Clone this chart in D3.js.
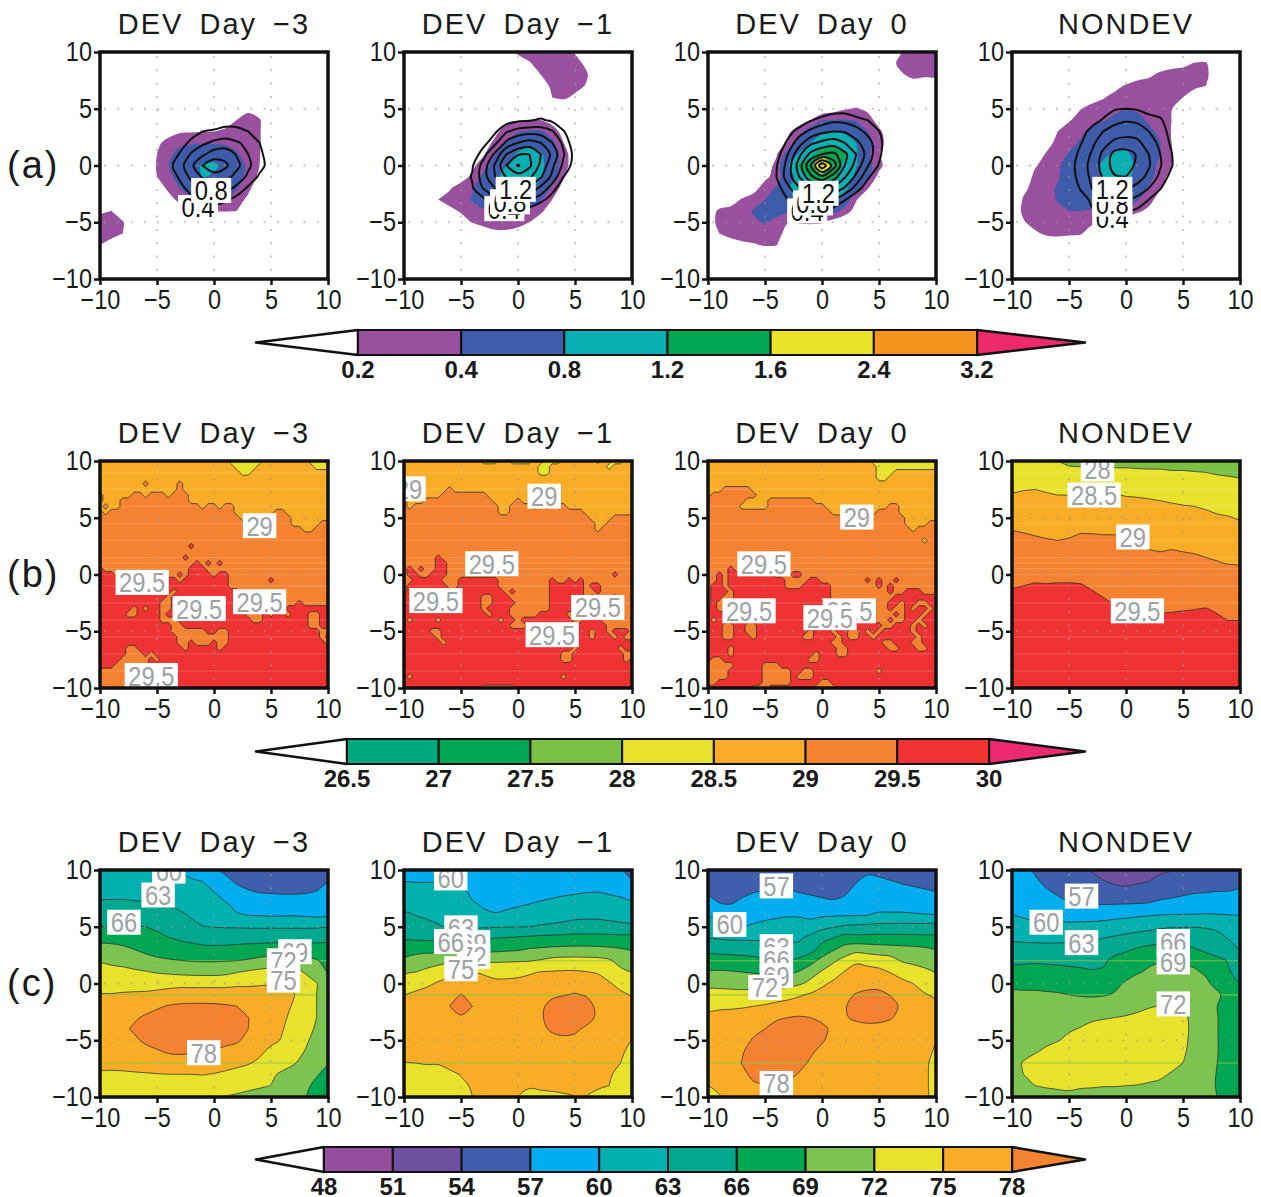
<!DOCTYPE html>
<html>
<head>
<meta charset="utf-8">
<script src="https://cdn.jsdelivr.net/npm/d3@7"></script>
<style>
html, body { margin: 0; padding: 0; background: #fff; }
text { font-family: "Liberation Sans", sans-serif; fill: #1a1a1a; }
</style>
</head>
<body>
<div id="result"></div>
<script>
/* Global vars */
var titles = ["DEV Day \u22123", "DEV Day \u22121", "DEV Day 0", "NONDEV"];
var rowNames = ["(a)", "(b)", "(c)"];
var axisTicks = [-10, -5, 0, 5, 10];
var gridDots = [-5, 0, 5];

var levelsA = [0.2, 0.4, 0.8, 1.2, 1.6, 2.4, 3.2];
var levelsB = [26.5, 27, 27.5, 28, 28.5, 29, 29.5, 30];
var levelsC = [48, 51, 54, 57, 60, 63, 66, 69, 72, 75, 78];
var lineLevelsA = [0.4, 0.6, 0.8, 1.0, 1.2, 1.4, 1.6, 1.8, 2.0];

var colorsA = ["#98509f", "#3f5cab", "#08b0b4", "#00a651", "#ebe32a", "#f7941e", "#ee2a6b"];
var colorsB = ["#00a97f", "#00a651", "#7ac143", "#e8e22c", "#f9ad26", "#f58230", "#ee3332", "#ec2a72"];
var colorsC = ["#964f9f", "#6f51a1", "#3f5fac", "#00aeef", "#00b1b0", "#00a88f", "#00a651", "#7cc352", "#e8e22c", "#f9ad26", "#f58230"];

// rows run y = 10 .. -10, columns x = -10 .. 10; a short row keeps its last value to the edge
var shadeA1 = [[0],[0],[0],[0],[0],
[0,0,0,0,0,0,0,0,0,0,0,0,.05,.14,.08,0],
[0,0,0,0,0,0,0,0,0,0,0,.1,.2,.3,.22,0],
[0,0,0,0,0,0,.1,.17,.18,.19,.2,.24,.3,.32,.22,0],
[0,0,0,0,0,.15,.28,.36,.38,.38,.38,.36,.34,.3,.22,0],
[0,0,0,0,0,.2,.36,.46,.52,.6,.62,.56,.42,.32,.21,0],
[0,0,0,0,.02,.22,.4,.5,.62,.85,.86,.72,.5,.36,.2,0],
[0,0,0,0,0,.2,.36,.46,.6,.82,.75,.62,.48,.34,.15,0],
[0,0,0,0,0,.08,.24,.4,.5,.55,.55,.5,.42,.25,.05,0],
[0,0,0,0,0,0,.12,.26,.36,.41,.42,.4,.3,.15,0],
[.15,.2,.05,0,0,0,0,.08,.18,.2,.21,.21,.2,.05,0],
[.3,.3,.22,0],[.3,.28,.2,0],[.2,.1,0],[0],[0],[0]];
var shadeA2 = [
[0,0,0,0,0,0,0,0,0,0,.25,.3,.3,.3,.3,.18,0],
[0,0,0,0,0,0,0,0,0,0,.05,.18,.3,.32,.32,.28,.15,0],
[0,0,0,0,0,0,0,0,0,0,0,0,.2,.3,.32,.3,.23,0],
[0,0,0,0,0,0,0,0,0,0,0,0,.1,.24,.3,.28,.18,0],
[0,0,0,0,0,0,0,0,0,0,0,0,0,.2,.24,.15,.05,0],
[0],
[0,0,0,0,0,0,0,0,0,.15,.19,.2,.2,.12,0],
[0,0,0,0,0,0,0,0,.15,.3,.38,.42,.42,.3,.12,0],
[0,0,0,0,0,0,0,.1,.25,.42,.58,.72,.6,.45,.2,0],
[0,0,0,0,0,0,0,.18,.4,.62,.85,.95,.85,.55,.3,.05,0],
[0,0,0,0,0,0,.15,.32,.55,.8,1.0,1.1,.9,.55,.3,.05,0],
[0,0,0,0,0,.1,.25,.45,.72,.92,1.0,1.0,.82,.5,.22,0],
[0,0,0,0,.18,.3,.38,.55,.7,.85,.9,.88,.65,.35,.1,0],
[0,0,0,.2,.27,.33,.42,.5,.6,.65,.65,.58,.42,.2,0],
[0,0,0,.08,.15,.22,.3,.38,.4,.42,.4,.36,.25,.05,0],
[0,0,0,0,0,.12,.21,.26,.3,.3,.28,.2,.05,0],
[0,0,0,0,0,0,0,.1,.15,.15,.1,0],[0],[0],[0],[0]];
var shadeA3 = [
[0,0,0,0,0,0,0,0,0,0,0,0,0,0,0,0,0,.2,.3,.3,.3],
[0,0,0,0,0,0,0,0,0,0,0,0,0,0,0,0,.1,.3,.35,.35,.35],
[0,0,0,0,0,0,0,0,0,0,0,0,0,0,0,0,0,.17,.28,.25,.25],
[0,0,0,0,0,0,0,0,0,0,0,0,0,0,0,0,0,0,.05,.03,.05],
[0],
[0,0,0,0,0,0,0,0,0,0,.05,.1,.18,.22,.15,.02,0],
[0,0,0,0,0,0,0,0,.08,.2,.38,.41,.41,.38,.3,.1,0],
[0,0,0,0,0,0,0,.15,.32,.55,.72,.82,.72,.55,.4,.25,.05,0],
[0,0,0,0,0,0,.02,.25,.5,.8,1.1,1.17,1.1,.8,.5,.27,.1,0],
[0,0,0,0,0,0,.18,.5,.85,1.15,1.3,1.32,1.22,.85,.45,.22,.02,0],
[0,0,0,0,0,.1,.25,.75,1.25,1.3,2.45,1.25,1.17,.82,.5,.28,.03,0],
[0,0,0,0,0,.15,.28,.6,.95,1.25,1.3,1.28,1.05,.7,.45,.12,0],
[0,0,0,.03,.12,.3,.42,.75,1.0,1.15,1.2,1.15,.9,.5,.22,0],
[0,0,.1,.22,.3,.4,.5,.7,.85,.95,.95,.85,.55,.22,0],
[.05,.25,.27,.32,.42,.5,.5,.45,.55,.6,.55,.48,.32,.1,0],
[.08,.27,.3,.33,.36,.42,.32,.21,.22,.24,.22,.1,0],
[.02,.2,.27,.3,.3,.3,.28,.12,.03,0],
[0,0,.1,.15,.18,.22,.21,.02,0],[0],[0],[0]];
var shadeA4 = [[0],
[0,0,0,0,0,0,0,0,0,0,0,0,0,.05,.1,.14,.21,.22,.05,0],
[0,0,0,0,0,0,0,0,0,0,0,.1,.15,.25,.3,.3,.3,.25,.05,0],
[0,0,0,0,0,0,0,0,.03,.12,.23,.3,.32,.32,.3,.3,.26,.2,0],
[0,0,0,0,0,0,0,.1,.18,.28,.32,.32,.32,.32,.3,.2,.05,0],
[0,0,0,0,0,.03,.19,.28,.32,.35,.38,.36,.34,.3,.21,.05,0],
[0,0,0,0,.02,.18,.28,.32,.38,.45,.55,.48,.36,.28,.2,.02,0],
[0,0,0,.02,.2,.3,.36,.45,.55,.62,.66,.6,.46,.34,.19,0],
[0,0,0,.1,.27,.34,.42,.55,.62,.68,.72,.66,.52,.41,.2,0],
[0,0,.05,.22,.3,.42,.52,.65,.74,.85,.85,.7,.52,.4,.22,0],
[0,0,.18,.27,.36,.5,.58,.7,.85,.95,.95,.72,.5,.35,.2,0],
[0,.08,.24,.3,.38,.5,.58,.68,.82,.92,.9,.68,.48,.3,.12,0],
[0,.15,.27,.33,.42,.5,.56,.64,.72,.8,.78,.6,.38,.22,.05,0],
[0,.22,.3,.34,.41,.46,.5,.55,.6,.62,.55,.42,.28,.1,0],
[.05,.24,.3,.33,.37,.4,.4,.38,.38,.36,.34,.24,.15,0],
[0,.18,.28,.3,.32,.32,.3,.24,.2,.15,.08,0],
[0,.08,.16,.24,.25,.24,.22,.1,0],
[0,0,0,0,.05,0],[0],[0],[0]];

var linesA1 = [[0],[0],[0],[0],[0],[0],
[0,0,0,0,0,0,0,0,0,.1,.2,.3,.3,.3,.2,0],
[0,0,0,0,0,0,0,.2,.3,.4,.44,.47,.46,.4,.25,.1,0],
[0,0,0,0,0,0,.15,.3,.45,.56,.64,.68,.62,.55,.4,.2,.05,0],
[0,0,0,0,0,0,.2,.42,.62,.76,.9,.92,.78,.6,.46,.25,0],
[0,0,0,0,0,0,.33,.52,.75,1.0,1.12,1.04,.86,.64,.48,.3,.1,0],
[0,0,0,0,0,0,.22,.44,.65,.82,.92,.88,.72,.56,.36,.18,0],
[0,0,0,0,0,0,0,.32,.5,.64,.72,.68,.55,.36,.2,0],
[0,0,0,0,0,0,0,0,.32,.42,.5,.44,.32,.15,0],
[0,0,0,0,0,0,0,0,0,.2,.28,.25,.1,0],[0],[0],[0],[0],[0],[0]];
var linesA2 = [[0],[0],[0],[0],[0],
[0,0,0,0,0,0,0,0,0,0,.1,.15,.2,.12,0],
[0,0,0,0,0,0,0,0,.15,.3,.36,.38,.43,.36,.15,0],
[0,0,0,0,0,0,0,.12,.37,.58,.68,.72,.7,.62,.42,.15,0],
[0,0,0,0,0,0,0,.33,.55,.85,1.0,1.08,1.0,.8,.55,.25,0],
[0,0,0,0,0,0,.25,.52,.85,1.2,1.38,1.4,1.2,.95,.62,.32,.1,0],
[0,0,0,0,0,.2,.38,.7,1.03,1.4,1.62,1.44,1.15,.85,.55,.3,.1,0],
[0,0,0,0,0,.28,.42,.72,1.0,1.22,1.3,1.24,1.02,.75,.4,.15,0],
[0,0,0,0,0,.15,.38,.62,.8,.98,1.02,.95,.75,.5,.22,0],
[0,0,0,0,0,0,.15,.36,.55,.68,.7,.62,.48,.28,.05,0],
[0,0,0,0,0,0,0,.12,.25,.32,.38,.3,.15,0],[0],[0],[0],[0],[0],[0]];
var linesA3 = [[0],[0],[0],[0],[0],
[0,0,0,0,0,0,0,0,0,.1,.2,.28,.3,.2,.1,0],
[0,0,0,0,0,0,0,.05,.22,.38,.48,.55,.54,.48,.4,.2,0],
[0,0,0,0,0,0,.08,.3,.5,.65,.75,.8,.78,.68,.55,.41,.1,0],
[0,0,0,0,0,0,.2,.45,.72,.95,1.05,1.1,1.0,.85,.68,.48,.2,0],
[0,0,0,0,0,.05,.3,.6,.95,1.25,1.4,1.45,1.25,1.0,.72,.46,.15,0],
[0,0,0,0,0,.1,.38,.68,1.1,1.58,2.15,1.72,1.2,.92,.62,.38,.1,0],
[0,0,0,0,0,.1,.4,.7,1.0,1.35,1.55,1.3,1.02,.75,.45,.18,0],
[0,0,0,0,0,0,.3,.55,.78,.98,1.05,.95,.78,.52,.25,0],
[0,0,0,0,0,0,.22,.4,.58,.7,.72,.62,.42,.2,0],
[0,0,0,0,0,0,.15,.25,.32,.38,.42,.3,.15,0],
[0,0,0,0,0,0,0,.05,.05,0],[0],[0],[0],[0],[0]];
var linesA4 = [[0],[0],[0],[0],
[0,0,0,0,0,0,0,0,0,.15,.2,.15,0],
[0,0,0,0,0,0,0,.15,.3,.38,.4,.38,.3,.25,.1,0],
[0,0,0,0,0,0,.15,.32,.42,.54,.58,.56,.5,.44,.22,.05,0],
[0,0,0,0,0,.08,.32,.46,.6,.68,.72,.7,.6,.5,.32,.1,0],
[0,0,0,0,0,.18,.38,.55,.72,.85,.88,.85,.7,.55,.36,.12,0],
[0,0,0,0,0,.25,.46,.62,.85,1.06,1.08,.98,.8,.6,.41,.15,0],
[0,0,0,0,0,.3,.5,.66,.88,1.08,1.1,.95,.82,.62,.42,.15,0],
[0,0,0,0,0,.28,.48,.64,.82,.98,1.0,.88,.75,.55,.32,.08,0],
[0,0,0,0,0,.2,.42,.6,.72,.82,.82,.74,.6,.42,.18,0],
[0,0,0,0,0,0,.3,.44,.56,.62,.62,.54,.4,.22,.04,0],
[0,0,0,0,0,0,.15,.38,.42,.44,.42,.36,.2,.05,0],
[0,0,0,0,0,0,0,.1,.15,.18,.15,.1,0],[0],[0],[0],[0],[0]];

// SST bands for the rugged panels: class of each half-degree cell, as class,count pairs per row
var classValues = [27.75, 28.25, 28.75, 29.25, 29.75];
var bandsB1 = [
[2,23,1,6,2,8,1,4],[2,24,1,4,2,10,1,3],[2,25,1,2,2,14],[2,41],[2,8,3,1,2,5,3,1,2,26],[2,14,3,1,2,26],
[3,1,2,5,3,2,2,1,3,3,2,1,3,3,2,25],[3,1,2,3,3,12,2,25],[2,1,3,1,2,2,3,14,2,1,3,2,2,1,3,2,2,17],
[3,1,2,1,3,22,2,7,3,2,2,8],[3,25,2,3,3,6,2,7],[3,34,2,5,3,2],[3,36,2,2,3,3],[3,41],[3,41],
[3,16,4,1,3,24],[3,41],[3,15,4,1,3,25],[3,17,4,1,3,1,4,1,3,1,4,1,3,19],[4,1,3,15,4,3,3,22],
[4,3,3,11,4,1,3,1,4,4,3,1,4,2,3,18],[4,4,3,8,4,2,3,1,4,6,4,2,3,7,4,1,3,10],[4,5,3,7,4,11,3,18],
[4,13,3,1,4,11,3,16],[4,12,3,1,4,14,3,14],[4,11,3,2,4,14,3,8,4,1,3,5],
[4,6,3,1,4,1,3,1,4,2,3,2,4,13,3,7,4,8],[4,5,3,2,4,4,3,1,4,14,3,3,4,1,3,1,4,2,3,1,4,3,3,2,4,2],
[4,11,3,3,4,13,3,2,4,8,3,2,4,2],[4,13,3,2,4,22,3,2,4,2],[4,13,3,6,4,2,3,2,4,16,3,2],
[4,14,3,9,4,16,3,1,4,1],[4,14,3,2,4,1,3,3,4,1,3,2,4,17,3,1],[4,5,3,2,4,8,3,1,4,5,3,1,4,19],
[4,5,3,3,4,1,3,1,4,31],[4,4,3,5,4,1,3,1,4,30],[4,3,3,6,4,32],[3,9,4,32],[3,9,4,32],[3,7,4,34],[3,5,4,36]];
var bandsB2 = [
[2,14,1,3,2,2,1,4,2,2,1,3,2,6,1,1,2,2,1,2,2,2],[2,24,1,2,2,10,1,1,2,4],[2,24,1,2,2,15],[2,41],[2,41],
[2,8,3,1,2,32],[2,7,3,8,2,26],[3,1,2,3,3,12,2,4,3,1,2,20],[3,1,2,1,3,15,2,2,3,4,2,1,3,1,2,1,3,3,2,12],
[3,17,2,2,3,13,2,9],[3,33,2,4,3,4],[3,34,2,2,3,5],[3,34,2,1,3,6],[3,41],[3,41],[3,41],[3,41],
[3,6,4,1,3,34],[3,6,4,2,3,33],[3,1,4,1,3,1,4,1,3,2,4,2,3,33],[3,1,4,2,3,2,4,3,3,29,4,1,3,3],
[3,2,4,5,3,3,4,7,3,9,4,1,3,2,4,1,3,1,4,1,3,9],[3,1,4,7,3,2,4,7,3,9,4,6,3,1,4,2,3,6],
[3,1,4,17,3,1,4,1,3,6,4,6,3,2,4,1,3,6],[4,14,3,2,4,3,3,7,4,6,3,1,4,1,3,3,4,1,3,3],
[4,14,3,2,4,4,3,6,4,6,3,9],[4,14,3,1,4,4,3,7,4,5,3,10],[4,15,3,1,4,3,3,5,4,5,3,3,4,1,3,8],
[4,1,3,1,4,4,3,1,4,10,3,1,4,2,3,1,4,9,3,2,4,3,3,6],[4,19,3,3,4,14,3,5],
[4,5,3,2,4,26,3,1,4,2,3,1,4,3,3,1],[4,6,3,1,4,26,3,1,4,3,3,1,4,1,3,2],[4,7,3,1,4,33],
[4,30,3,1,4,7,3,1,4,2],[4,28,3,2,4,9,3,2],[4,28,3,2,4,9,3,1,4,1],[4,41],[4,41],
[4,1,3,1,4,26,3,1,4,12],[4,41],[4,14,3,6,4,21]];
var bandsB3 = [
[2,29,1,12],[2,30,1,11],[2,30,1,3,2,8],[2,30,1,2,2,9],[2,41],[2,3,3,5,2,33],[2,1,3,8,2,32],
[3,7,2,4,3,8,2,22],[3,6,2,5,3,10,2,11,3,2,2,7],[3,22,2,8,3,4,2,7],[3,35,2,6],[3,35,2,4,3,2],
[3,36,2,1,3,4],[3,41],[3,38,2,1,3,2],[3,41],[3,41],[3,41],[3,41],[3,4,4,1,3,36],
[3,2,4,1,3,1,4,8,3,3,4,2,3,24],[3,2,4,1,3,1,4,10,3,4,4,2,3,8,4,1,3,1,4,1,3,2,4,1,3,7],
[3,1,4,2,3,1,4,10,3,3,4,5,3,8,4,1,3,1,4,1,3,8],[3,1,4,3,3,1,4,17,3,10,4,1,3,2,4,3,3,3],
[3,1,4,2,3,2,4,17,3,11,4,8],[3,1,4,1,3,3,4,18,3,9,4,2,3,1,4,2,3,2,4,2],
[4,2,3,3,4,20,3,7,4,1,3,2,4,1,3,1,4,2,3,1,4,1],[4,25,3,8,4,1,3,1,4,3,3,1,4,2],
[4,1,3,1,4,23,3,2,4,2,3,3,4,1,3,2,4,2,3,1,4,3],[4,3,3,2,4,2,3,2,4,22,3,2,4,3,3,1,4,1,3,1,4,2],
[4,3,3,2,4,2,3,2,4,9,3,1,4,3,3,1,4,2,3,2,4,1,3,1,4,1,3,1,4,5,3,1,4,5],
[4,3,3,2,4,3,3,1,4,8,3,2,4,4,3,1,4,1,3,2,4,2,3,1,4,7,3,1,4,3],[4,22,3,2,4,7,3,2,4,3,3,2,4,3],
[4,4,3,1,4,18,3,2,4,7,3,2,4,3,3,2,4,2],[4,4,3,1,4,14,3,1,4,3,3,2,4,16],[4,1,3,2,4,15,3,2,4,21],
[3,5,4,5,3,3,4,28],[3,4,4,6,3,5,4,2,3,2,4,11,3,1,4,10],[3,4,4,6,3,5,4,1,3,3,4,22],
[3,2,4,8,3,5,4,5,3,2,4,19],[4,8,3,3,4,8,3,4,4,18]];
var fieldB4 = [
[28.2,28.2,28.15,28.1,28,27.9,27.9,27.85,27.85,27.85,27.85,27.8,27.8,27.8,27.75,27.75,27.75,27.75,27.7,27.7,27.7],
[28.3,28.3,28.25,28.2,28.15,28.12,28.1,28.1,28.1,28.1,28.1,28.1,28.08,28.08,28.05,28.05,28.02,28,27.95,27.92,27.88],
[28.4,28.42,28.42,28.4,28.35,28.35,28.35,28.35,28.35,28.35,28.35,28.35,28.35,28.3,28.27,28.25,28.22,28.2,28.18,28.15,28.12],
[28.52,28.55,28.58,28.53,28.5,28.5,28.5,28.5,28.5,28.52,28.48,28.47,28.45,28.42,28.38,28.35,28.32,28.3,28.28,28.25,28.22],
[28.68,28.68,28.68,28.68,28.68,28.68,28.68,28.68,28.68,28.68,28.65,28.62,28.6,28.58,28.55,28.52,28.5,28.45,28.4,28.38,28.35],
[28.8,28.8,28.8,28.8,28.8,28.8,28.8,28.8,28.8,28.8,28.8,28.8,28.78,28.75,28.72,28.7,28.65,28.62,28.55,28.52,28.47],
[28.98,28.95,28.93,28.9,28.9,28.88,28.93,28.92,28.9,28.9,28.88,28.85,28.82,28.8,28.78,28.75,28.72,28.68,28.65,28.62,28.6],
[29.15,29.1,29.05,29.02,29,29.03,29.12,29.12,29.1,29.1,29.05,28.97,28.92,28.9,28.88,28.88,28.85,28.82,28.8,28.78,28.78],
[29.25,29.25,29.22,29.2,29.2,29.2,29.2,29.2,29.2,29.2,29.15,29.1,29.02,29,29.03,29,28.98,28.95,28.92,28.9,28.88],
[29.35,29.35,29.33,29.33,29.32,29.32,29.3,29.3,29.3,29.3,29.3,29.25,29.2,29.18,29.15,29.15,29.1,29.05,29.02,28.98,28.97],
[29.42,29.42,29.42,29.42,29.42,29.42,29.42,29.4,29.4,29.38,29.35,29.33,29.3,29.28,29.26,29.25,29.22,29.2,29.18,29.18,29.15],
[29.47,29.5,29.53,29.52,29.53,29.53,29.52,29.47,29.43,29.4,29.38,29.35,29.33,29.32,29.31,29.3,29.3,29.28,29.27,29.26,29.25],
[29.6,29.6,29.6,29.6,29.6,29.6,29.6,29.55,29.5,29.45,29.42,29.4,29.38,29.36,29.36,29.35,29.35,29.35,29.32,29.3,29.3],
[29.7,29.7,29.7,29.7,29.7,29.7,29.7,29.65,29.6,29.52,29.5,29.47,29.46,29.46,29.47,29.48,29.49,29.51,29.46,29.42,29.4],
[29.75,29.75,29.75,29.75,29.75,29.75,29.75,29.72,29.68,29.64,29.6,29.58,29.57,29.56,29.56,29.58,29.59,29.6,29.55,29.49,29.48],
[29.8],[29.82],[29.84],[29.85],[29.85],[29.85]];

var fieldC1 = [
[61.5,61.4,61.3,61.2,61.1,60.8,60.3,60,59.2,58.4,57.4,56.4,55.8,55.2,55,55,55,55,55,55.5,56],
[62,62,61.8,61.6,61.3,61,60.8,60.6,60.3,60,59,57.8,56.6,55.9,55.6,55.5,55.5,55.5,55.6,56,56.9],
[62.4,62.4,62.4,62.3,62.2,62.1,62,61.6,61.2,60.7,60.1,59.2,58.2,57.4,57,56.9,56.8,56.8,56.9,57.2,57.6],
[63.3,63.4,63.4,63.3,63.2,63.1,62.9,62.3,61.7,61,60.6,60.2,59.5,58.8,58.5,58.4,58.3,58.3,58.2,58.2,58.4],
[64.5,64.6,64.7,64.7,64.6,64.4,64,63.5,62.8,61.9,61.2,60.6,60.2,60,59.9,59.8,59.8,59.9,59.7,59.5,59.4],
[65.9,66.1,66.2,66.2,66,65.6,64.9,64.2,63.6,63.1,62.9,62.8,62.8,62.7],
[68,68,67.8,67.6,67,66.6,66.1,65.7,65.4,65.1,65,65,65,65,64.9,65,65,65,65,65.1,65.2],
[70,70,69.6,69,68.4,67.8,67.4,67,66.8,66.6,66.5,66.6,66.8,67,67.2,67.4,67.5,67.5,67.3,67.2,67],
[71.7,71.5,71.2,70.6,70,69.6,69.3,69.1,68.9,68.8,68.8,68.9,69,69.3,69.8,70.2,70.3,70.5,70,69.2,68.2],
[73,72.8,72.7,72.5,72.2,71.8,71.5,71.2,71,70.9,70.9,71.2,71.9,72.4,72.8,73,73,72.9,71.8,70.6,68.8],
[74.2,74.2,74.3,74.2,74.1,74.3,74.5,74.6,74.6,74.6,74.6,74.6,74.7,74.7,74.8,74.9,74.8,74.6,73.2,72.1,70.4],
[75.1,75.1,75.2,75.3,75.4,75.5,75.6,75.7,75.7,75.7,75.7,75.7,75.8,75.8,75.8,75.7,75.5,75.1,73.6,72,70.2],
[75.8,76,76.2,76.6,77.2,77.6,78.2,78.6,78.8,78.8,78.7,78.4,78,77,76.3,75.8,75.6,74.8,73.2,72,70.2],
[76,76.4,77,77.7,78.3,79,79.5,79.7,79.6,79.5,79.4,79.2,78.9,78.05,76.8,76,75.4,74.4,73,72,70.1],
[76.2,76.5,77.5,78.3,79.2,79.7,80,80.1,80.1,80,79.8,79.5,79.1,78,76.6,75.8,75.1,74.1,72.8,71.7,69.9],
[76.2,76.5,77,77.6,78.4,79.2,79.6,79.7,79.6,79.5,79.2,78.9,78.4,77.2,76.4,75.6,74.8,73.7,72.4,71.2,69.8],
[76,76.2,76.6,77,77.3,77.7,78.3,78.5,78.3,78.05,77.7,77.2,76.8,76,75.5,74.4,73.8,72.9,71.9,70.9,69.6],
[75.6,75.7,75.9,76.1,76.3,76.4,76.5,76.5,76.5,76.3,76.1,75.9,75.6,75.2,74.5,73.6,72.9,72.2,71.2,70.2,69.2],
[74.6,74.6,74.6,74.7,74.8,74.9,75,75,75,75.1,74.9,74.6,74.2,73.8,73.2,72.4,71.6,71,70.2,69.2,68.2],
[73.5,73.4,73.4,73.4,73.4,73.4,73.5,73.5,73.5,73.5,73.3,73.2,73,72.6,72.3,71.95,71,70.2,69.5,68.4,67.4],
[73,73,73,73,73,72.9,72.8,72.6,72.4,72.2,72.1,71.9,71.6,71.3,71,70.6,70.2,69.6,69.1,68,66.8]];
var fieldC2 = [
[59.2,59.2,59.2,59,58.8,58.6,58.4,58.2,58.1,58.1,58,58,58,58,58,58,58,57.9,57.6,57.2,56.2],
[59.9,59.9,59.9,59.9,59.8,59.6,59,58.8,58.8,58.7,58.6,58.5,58.4,58.3,58.2,58,58,58,57.9,57.6,57.2],
[61,61,61,61,60.9,60.6,59.6,59.4,59.3,59.2,59.2,59.2,59.2,59.3,59.6,59.8,60,60.1,59.8,59.5,59],
[62.2,62.2,62.1,62,62,61.6,60.2,59.8,59.7,59.7,59.8,60,60.3,60.7,61,61.2,61.3,61.3,61,60.8,60.3],
[63.4,63,62.8,62.7,62.6,62.3,60.8,60.3,60.1,60.3,60.6,61,61.4,61.8,62.1,62.4,62.5,62.5,62.3,62.1,61.8],
[64.2,63.8,63.4,63.1,62.9,62.9,62.7,62.7,62.8,62.9,62.9,63,63.3,63.5,63.7,64,64,64,63.8,63.6,63.4],
[65.6,65.5,65.4,65.4,65.5,65.5,65.5,65.7,66,66.2,66.4,66.6,66.8,66.9,67,67.1,67.1,67.1,67.1,67,66.9],
[67.6,68.2,68.2,68.1,68.2,68.2,68.2,68.2,68.3,68.5,68.7,69.2,69.4,69.6,69.7,69.8,69.8,69.7,69.5,69.2,68.8],
[69.5,70,70.6,71,71.4,71.5,71.5,71.5,71.6,71.7,71.8,71.9,72.3,72.9,73.1,73.1,73,72.9,72.4,71,70],
[71.6,72,72.7,73.6,74.2,74.6,75.1,74.7,74.3,74.3,74.4,74.7,75.1,75.2,75.3,75.3,75.1,74.8,73.6,72.7,72],
[73.5,74,74.5,75.3,75.8,76.2,76.2,75.9,75.5,75.5,75.6,76,76.2,76.6,76.8,76.8,76.6,76,75.3,74,73.2],
[75,75.5,76,76.4,77.2,78.1,77.3,76.8,76.5,76.4,76.4,76.6,77,77.6,77.9,78.2,77.8,77,76.3,75.6,74.8],
[75.5,76,76.4,77,78,79,78,77.2,76.8,76.7,76.7,76.9,77.6,78.7,79.2,79.4,79,77.4,76.6,76.2,75.6],
[75.6,76,76.4,76.9,77.4,77.7,77.3,76.9,76.7,76.6,76.6,76.9,77.7,79,79.6,79.8,79.1,77.5,76.7,76.2,75.8],
[75.7,76,76.2,76.4,76.6,76.7,76.6,76.5,76.4,76.4,76.5,76.7,77.4,78.4,78.9,78.5,77.5,76.7,76.4,76,75.5],
[75.6,75.8,76,76.1,76.2,76.2,76.2,76.2,76.2,76.2,76.3,76.4,76.8,77.2,77.4,77.3,76.8,76.4,76.1,75.6,75],
[75.5,75.6,75.8,75.9,76,76,76,76,76,76,76,76,76,76,76,76,76,76,75.8,75.3,74.5],
[74.9,75,75.1,75.1,75.6,75.8,75.9,75.9,75.9,75.9,75.9,75.9,75.9,75.9,75.9,75.9,75.8,75.7,75.4,75,74],
[74.3,74.3,74.4,74.4,74.6,75.1,75.5,75.7,75.7,75.7,75.7,75.7,75.7,75.7,75.7,75.7,75.6,75.5,75.2,74.5,73.5],
[73.8,73.8,73.9,74,74.1,74.6,75.2,75.4,75.4,75.3,75.2,75.1,75.2,75.2,75.2,75.3,75.3,75.2,75,74,73],
[73.5,73.5,73.5,73.6,73.8,74.3,75,75.1,75.1,75.05,75,74.7,74.7,74.8,74.9,75,75,74.6,74.2,73.5,72.8]];
var fieldC3 = [
[55.5,55.5,55.5,55.5,55.5,55.5,55.5,55.5,55.5,55.5,55.5,55.5,55.5,56.3,56.6,56.4,56,55.8,55.6,55.5],
[56,56,56,56,56.2,56.2,56.2,56.2,56.2,56.2,56.1,56,56,56.9,57.5,57.4,57.1,56.8,56.6,56.4,56.2],
[56.7,56.6,56.5,56.6,57,57.2,57.4,57.3,57,56.8,56.6,56.7,56.8,57.6,58,58,57.9,57.7,57.5,57.3,57.1],
[57.7,57.05,57,57.5,58,58.2,58.3,58.2,58,57.8,57.5,57.2,57.6,58.5,58.8,59,59,59,58.8,58.6,58.4],
[59.8,59.3,59,59,59.2,59.5,59.7,59.9,59.9,59.6,59.7,59.8,59.9,59.9,60,60.4,60.4,60.4,60.3,60.2,60.1],
[61.5,61,60.5,60,60.3,60.6,60.8,60.7,60.5,60.8,62.2,62.8,63.4,63.6,63.8,64,64,64.1,64.1,64.1,64.2],
[63,62.8,62.6,62.6,62.6,62.6,62.5,62.6,62.6,64,65.3,66,67.2,67,67,67,67,66.9,66.9,66.8,66.6],
[65,65,64.9,64.7,64.5,64.4,64.2,63.9,63.9,65,67,68.7,70.2,71,70.7,70.4,70.2,70,69.8,69.5,69],
[67.4,67.4,67.3,67.2,66.9,66.5,66.2,66,66.8,68,70,71.6,73,74.6,74.1,73.7,73.2,71.8,71.4,71,70.5],
[69.2,69.3,69.2,69,68.8,68.6,68.4,68.4,69.2,70.8,72.3,73.6,75.2,76,76,75.7,74.9,74,73.2,72.6,71.9],
[71.1,71.2,71,70.8,70.7,70.6,70.7,71,71.6,72.8,74.4,75.6,76.4,76.8,77.2,77.2,76.5,75.7,75,74,73.3],
[73,73,73,73,73.2,73.2,73.6,74,74.7,75.4,76.2,76.8,77.3,78.2,78.6,78.6,77.9,77,75.9,75.2,74.6],
[74.6,74.7,74.7,74.8,75,75.3,75.8,76.2,76.5,76.7,77,77.3,77.8,79,79.5,79.6,79,77.5,76.5,76,75.6],
[75.3,75.6,75.8,76,76.5,77,77.6,78,78.2,78,77.4,77,77.7,78.6,79.1,79,78.3,77,76.4,76,75.8],
[75.5,75.8,76.2,76.6,77.2,78,79,79.6,79.6,79.5,78.6,77.4,76.8,76.8,76.9,76.8,76.6,76.3,76.1,75.9,75.6],
[75.5,75.8,76.4,77,78.3,79.5,80,80.2,80,79.6,78.3,77,76.5,76.4,76.3,76.3,76.2,76.1,76,75.7,75.1],
[75.5,75.9,76.8,77.8,79,80,80.3,80.3,79.8,78.4,77.3,76.6,76.3,76.2,76.2,76.1,76.1,76,76,75.7,74.7],
[75.4,75.9,76.9,78.1,79.5,80.2,80.2,79.6,78.8,77.6,76.8,76.4,76.2,76.2,76.1,76.1,76,76,76,75.3,74.5],
[75.3,75.9,76.6,77.4,78.6,79.4,79.4,78.8,77.8,77,76.4,76.2,76.2,76.1,76.1,76.1,76,76,76,75.3,74.4],
[75,75.6,76.2,76.8,77.6,77.8,77.6,77.2,76.8,76.4,76.2,76.2,76.2,76.1,76.1,76.1,76,76,76,75.3,74.4],
[74,74.8,75.8,76.4,76.8,77,76.9,76.6,76.4,76.3,76.2,76.2,76.2,76.1,76.1,76.1,76,76,76,75.3,74.4]];
var fieldC4 = [
[58,57.3,56.8,56,55.5,55,54.5,53.8,53.2,53,52.8,53,53.2,53.6,54,54.6,55,55.4,55.6,55.8,56],
[58.4,58,57.3,56.6,56,55.5,55.2,54.8,54.1,53.7,53.5,53.7,54,54.6,55,55.5,55.8,56,56.2,56.4,56.6],
[59,58.4,57.6,57.3,56.8,56.2,55.8,55.5,55.2,54.8,54.7,55,55.4,55.8,56.2,56.6,56.9,57,57.1,57.1,57.2],
[59.4,59,58.6,58.2,57.6,57.2,57,56.9,56.9,56.95,57,57.1,57.2,57.7,57.9,58.1,58.2,58.4,58.4,58.3,58.2],
[60.1,59.7,59.4,59.1,59,59,59,59.1,59.2,59.4,59.5,59.7,59.9,60.1,60.2,60.2,60.2,60.3,60.2,60.1,60],
[61.5,61,60.6,60.6,60.7,60.7,60.8,60.8,60.9,61.2,61.5,61.9,62.2,62.6,62.8,62.9,62.9,62.8,62.6,62.3,61.8],
[62.6,62.4,62.3,62.3,62.4,62.5,62.6,62.7,63,63.4,63.9,64.2,64.5,65,65.2,65,64.7,64.3,63.6,62.9,62.3],
[63.7,64,64,63.9,63.8,63.8,63.6,64,64.4,65,65.6,66.3,66.8,66.9,66.8,66.6,66.2,65.4,64.6,63.8,63],
[65.4,65.6,65.7,65.6,65.6,65.5,65.4,65.3,65.5,66.8,67.4,68,68.6,68.8,68.8,68.6,68.3,67.6,66.8,65.8,64.8],
[66.7,66.9,67,66.9,66.7,66.5,66.4,66.2,66.4,67.3,68.1,68.8,69.3,69.9,69.9,69.9,69.4,68.6,67.4,66.2,65.2],
[68.4,68.4,68.4,68.3,68.2,68,67.8,67.7,67.9,68.4,69.3,70,70.5,70.9,71,70.6,70,69.6,68,66.9,66],
[69.4,69.4,69.4,69.3,69.2,69,68.8,68.7,68.8,69.2,70,70.6,71,71.4,71.5,71.3,70.8,70,69.6,67.7,66.4],
[70,70,70,70.1,70.2,70.2,70.2,70.3,70.5,70.8,71,71.4,71.8,72.1,72.3,72.1,71.4,70.6,69,67.8,66.8],
[70.2,70.2,70.3,70.4,70.6,71,71.4,71.7,71.8,72,72.2,72.5,72.9,73,73.1,72.3,71.6,70.7,69.1,67.8,66.9],
[70.4,70.5,70.7,70.9,71.2,71.8,72.1,72.5,73,73.2,73.4,73.5,73.6,73.6,73.5,72.4,71.6,70.6,69.1,67.8,67],
[70.6,70.8,71.2,71.5,71.9,72.4,72.9,73.3,73.6,73.8,74,74,74,73.9,73.5,72.3,71.6,70.5,69.1,67.8,67],
[70.8,71.1,71.8,72.4,72.8,73.2,73.6,74,74.2,74.4,74.4,74.4,74.3,74,73.4,72.2,71.5,70.3,69.1,67.9,67],
[71,72.2,72.9,73.4,73.7,74,74.2,74.4,74.6,74.6,74.6,74.6,74.3,73.8,73,72,71.3,70.2,69,67.9,67.2],
[71,72,72.9,73.3,73.5,73.6,73.6,73.6,73.5,73.5,73.4,73.3,73,72.6,71.7,71,70.4,69.8,68.9,67.8,67.2],
[70.6,71,72,72.2,72.3,72.4,72.2,72.2,72.1,72.1,72,71.9,71.6,71.3,70.8,70.4,70,69.5,68.9,67.8,67.2],
[70.2,70.6,71,71.2,71.4,71.5,71.4,71.2,71,71,70.9,70.8,70.6,70.4,70,69.8,69.5,69.2,69,67.8,67.2]];

// contour labels: text, x, y in plot units, painted in this order
var labelsA = [
  [["0.4", -1.4, -3.7], ["0.8", -0.25, -2.2]],
  [["0.4", -1.2, -3.8], ["0.8", -0.7, -3.2], ["1.2", -0.2, -2.1]],
  [["0.4", -1.3, -4], ["0.8", -0.8, -3.3], ["1.2", -0.3, -2.45]],
  [["0.4", -1.2, -4.6], ["0.8", -1.2, -3.4], ["1.2", -1.2, -2.1]]];
var labelsB = [
  [["29", 4, 4.3], ["29.5", -6.3, -0.7], ["29.5", -1.3, -3], ["29.5", 4, -2.4], ["29.5", -5.5, -8.9]],
  [["29", -9.56, 7.55], ["29", 2.3, 6.9], ["29.5", -2.3, 0.95], ["29.5", -7.2, -2.3], ["29.5", 7, -2.9], ["29.5", 3, -5.3]],
  [["29", 3.06, 5.06], ["29.5", -5.1, 0.94], ["29.5", -6.4, -3.2], ["29.5", 2.4, -3.2], ["29.5", 0.7, -3.8]],
  [["28", -2.5, 9.3], ["28.5", -2.8, 7], ["29", 0.6, 3.3], ["29.5", 1, -3.2]]];
var labelsC = [
  [["60", -3.96, 9.9], ["63", -4.9, 7.8], ["66", -7.9, 5.4], ["69", 7.1, 2.8], ["72", 6.1, 2], ["75", 6.1, 0.3], ["78", -0.9, -6.1]],
  [["60", -5.9, 9.3], ["63", -5, 4.9], ["69", -3.9, 3.6], ["72", -3.9, 2.4], ["66", -5.9, 3.7], ["75", -5, 1.3]],
  [["57", -4, 8.6], ["60", -8.1, 5.2], ["63", -4, 3.25], ["66", -4, 2.1], ["69", -4, 0.7], ["72", -5, -0.35], ["78", -4, -8.8]],
  [["57", -3.9, 7.7], ["60", -7, 5.4], ["63", -3.9, 3.6], ["66", 4.15, 3.7], ["69", 4.15, 1.9], ["72", 4.15, -1.8]]];

// printing stripes seen across the shaded fields
var stripesB = [9, 7.5, 6, 4.5, 3, 1.5, 1, 0.5, 0, -1, -2.5, -4, -5.5, -7, -8.5];
var stripesC = [2, -1, -7];

var panelX = [100, 404, 708, 1012];
var rowY = [52, 461, 870];
var plotW = 228, plotH = 227;
var barY = [330, 739, 1147];
var barStart = [358, 347, 324];
var barEnd = [977, 989, 1012];

var svg = d3.select("#result").append("svg")
    .attr("width", 1261)
    .attr("height", 1197)
    .style("display", "block");

var defs = svg.append("defs");

function fromBands(bands) {
    return bands.map(function (pairs) {
        var row = [];
        for (var i = 0; i < pairs.length; i += 2) {
            for (var k = 0; k < pairs[i + 1]; k++) row.push(classValues[pairs[i]]);
        }
        return row.slice(0, 41);
    });
}

function makeGrid(rows, n) {
    var out = [];
    rows.forEach(function (row) {
        for (var i = 0; i < n; i++) {
            out.push(i < row.length ? row[i] : row[row.length - 1]);
        }
    });
    return out;
}

// no narrow font installed, so pull the glyphs in to the width of the original lettering
function squeeze(node, k) {
    var w = node.getComputedTextLength() * k;
    node.setAttribute("textLength", w);
    node.setAttribute("lengthAdjust", "spacingAndGlyphs");
    return w;
}

function drawField(rows, levels, colors, left, top, smooth) {
    var n = rows.length;
    // grid cell centres sit at i + 0.5
    var x = d3.scaleLinear().domain([0.5, n - 0.5]).range([left, left + plotW]);
    var y = d3.scaleLinear().domain([0.5, n - 0.5]).range([top, top + plotH]);
    var contours = d3.contours().size([n, n]).thresholds(levels)(makeGrid(rows, n));
    var ringLine = d3.line()
        .x(function (p) { return x(p[0]); })
        .y(function (p) { return y(p[1]); })
        .curve(smooth ? d3.curveCatmullRomClosed.alpha(0.5) : d3.curveLinearClosed);
    return contours.map(function (c, i) {
        var d = "";
        c.coordinates.forEach(function (poly) {
            poly.forEach(function (ring) {
                d += ringLine(ring.slice(0, -1));
            });
        });
        return { d: d, color: colors ? colors[i] : null };
    });
}

function drawPanel(rowIndex, colIndex, cfg) {
    var left = panelX[colIndex], top = rowY[rowIndex];
    var clipId = "clip-" + rowIndex + "-" + colIndex;
    defs.append("clipPath").attr("id", clipId).append("rect")
        .attr("x", left).attr("y", top).attr("width", plotW).attr("height", plotH);

    var xAxisScale = d3.scaleLinear().domain([-10, 10]).range([left, left + plotW]);
    var yAxisScale = d3.scaleLinear().domain([-10, 10]).range([top + plotH, top]);

    var g = svg.append("g").attr("clip-path", "url(#" + clipId + ")");

    var shaded = drawField(cfg.rows, cfg.levels, cfg.colors, left, top, cfg.smooth);
    g.selectAll("path.fill").data(shaded).enter().append("path")
        .attr("class", "fill")
        .attr("d", function (d) { return d.d; })
        .attr("fill", function (d) { return d.color; })
        .attr("fill-rule", "evenodd");

    (cfg.stripes || []).forEach(function (v) {
        g.append("line")
            .attr("x1", left).attr("x2", left + plotW)
            .attr("y1", yAxisScale(v)).attr("y2", yAxisScale(v))
            .attr("stroke", cfg.stripeColor)
            .attr("stroke-opacity", cfg.stripeOpacity)
            .attr("stroke-width", 1.6);
    });

    if (cfg.edgeLevels) {
        var edges = drawField(cfg.rows, cfg.edgeLevels, null, left, top, cfg.smooth);
        g.selectAll("path.edge").data(edges).enter().append("path")
            .attr("class", "edge")
            .attr("d", function (d) { return d.d; })
            .attr("fill", "none")
            .attr("stroke", "#2b2b2b")
            .attr("stroke-opacity", 0.75)
            .attr("stroke-width", 1);
    }

    // dotted grid
    gridDots.forEach(function (v) {
        g.append("line").attr("x1", xAxisScale(v)).attr("x2", xAxisScale(v))
            .attr("y1", top).attr("y2", top + plotH)
            .attr("stroke", "#999").attr("stroke-opacity", 0.55)
            .attr("stroke-width", 2).attr("stroke-dasharray", "2 11.3").attr("stroke-dashoffset", -4);
        g.append("line").attr("x1", left).attr("x2", left + plotW)
            .attr("y1", yAxisScale(v)).attr("y2", yAxisScale(v))
            .attr("stroke", "#999").attr("stroke-opacity", 0.55)
            .attr("stroke-width", 2).attr("stroke-dasharray", "2 11.3").attr("stroke-dashoffset", -4);
    });

    if (cfg.lineRows) {
        var lines = drawField(cfg.lineRows, lineLevelsA, null, left, top, true);
        g.selectAll("path.ring").data(lines).enter().append("path")
            .attr("class", "ring")
            .attr("d", function (d) { return d.d; })
            .attr("fill", "none")
            .attr("stroke", "#101010")
            .attr("stroke-width", 2);
    }

    // contour labels
    cfg.labels.forEach(function (lab) {
        var t = g.append("text")
            .attr("x", xAxisScale(lab[1]))
            .attr("y", yAxisScale(lab[2]) + 10)
            .attr("text-anchor", "middle")
            .style("font-size", "27px")
            .style("fill", cfg.labelColor)
            .text(lab[0]);
        var w = squeeze(t.node(), 0.88) + 7;
        g.insert("rect", function () { return t.node(); })
            .attr("x", xAxisScale(lab[1]) - w / 2)
            .attr("y", yAxisScale(lab[2]) - 12.5)
            .attr("width", w)
            .attr("height", 25)
            .attr("fill", "#fff");
    });

    // frame + axes
    svg.append("rect")
        .attr("x", left).attr("y", top).attr("width", plotW).attr("height", plotH)
        .attr("fill", "none").attr("stroke", "#111").attr("stroke-width", 3.5);

    var fmt = function (d) { return d < 0 ? "\u2212" + Math.abs(d) : "" + d; };
    var xAxis = svg.append("g").attr("transform", "translate(0," + (top + plotH) + ")")
        .call(d3.axisBottom(xAxisScale).tickValues(axisTicks).tickSize(6).tickPadding(5).tickFormat(fmt));
    var yAxis = svg.append("g").attr("transform", "translate(" + left + ",0)")
        .call(d3.axisLeft(yAxisScale).tickValues(axisTicks).tickSize(6).tickPadding(2).tickFormat(fmt));
    [xAxis, yAxis].forEach(function (a) {
        a.select(".domain").remove();
        a.selectAll("line").attr("stroke", "#111").attr("stroke-width", 2.5);
        a.selectAll("text")
            .style("font-size", "27px")
            .style("font-family", '"Liberation Sans", sans-serif')
            .attr("fill", "#1a1a1a")
            .each(function () { squeeze(this, 0.87); });
    });

    svg.append("text")
        .attr("x", left + plotW / 2)
        .attr("y", top - 18)
        .attr("text-anchor", "middle")
        .style("font-size", "29px")
        .style("letter-spacing", "2px")
        .style("word-spacing", "6px")
        .text(titles[colIndex]);
}

function drawBar(index, levels, colors, overColor) {
    var y0 = barY[index], h = 25;
    var scale = d3.scaleLinear().domain([0, levels.length - 1]).range([barStart[index], barEnd[index]]);
    var g = svg.append("g");
    var mid = y0 + h / 2;
    var tipLeft = 256, tipRight = 1085;

    g.append("path")
        .attr("d", d3.line()([[scale(0), y0], [tipLeft, mid], [scale(0), y0 + h]]) + "Z")
        .attr("fill", "#fff").attr("stroke", "#111").attr("stroke-width", 2.5).attr("stroke-linejoin", "round");
    g.append("path")
        .attr("d", d3.line()([[scale(levels.length - 1), y0], [tipRight, mid], [scale(levels.length - 1), y0 + h]]) + "Z")
        .attr("fill", overColor).attr("stroke", "#111").attr("stroke-width", 2.5).attr("stroke-linejoin", "round");

    g.selectAll("rect").data(levels.slice(0, -1)).enter().append("rect")
        .attr("x", function (d, i) { return scale(i); })
        .attr("y", y0)
        .attr("width", function (d, i) { return scale(i + 1) - scale(i); })
        .attr("height", h)
        .attr("fill", function (d, i) { return colors[i]; })
        .attr("stroke", "#111")
        .attr("stroke-width", 2);

    g.selectAll("text").data(levels).enter().append("text")
        .attr("x", function (d, i) { return scale(i); })
        .attr("y", y0 + h + 23)
        .attr("text-anchor", "middle")
        .style("font-size", "24px")
        .style("font-weight", "bold")
        .text(function (d) { return index === 0 ? d3.format(".1f")(d) : d; });
}

var configs = [
    { levels: levelsA, colors: colorsA, over: colorsA[6], labelColor: "#111", smooth: true,
      shade: [shadeA1, shadeA2, shadeA3, shadeA4], lines: [linesA1, linesA2, linesA3, linesA4], labels: labelsA },
    { levels: levelsB, colors: colorsB, over: colorsB[7], labelColor: "#9ca1a5", smooth: false,
      shade: [fromBands(bandsB1), fromBands(bandsB2), fromBands(bandsB3), fieldB4], labels: labelsB,
      stripes: stripesB, stripeColor: "#fff", stripeOpacity: 0.12 },
    { levels: levelsC, colors: colorsC, over: colorsC[10], labelColor: "#9ca1a5", smooth: true,
      shade: [fieldC1, fieldC2, fieldC3, fieldC4], labels: labelsC, stripes: stripesC, stripeColor: "#8cc63f", stripeOpacity: 0.6 }
];

configs.forEach(function (c, r) {
    titles.forEach(function (t, k) {
        drawPanel(r, k, {
            rows: c.shade[k],
            levels: c.levels,
            colors: c.colors,
            smooth: c.smooth,
            edgeLevels: r === 0 ? null : c.levels,
            lineRows: c.lines ? c.lines[k] : null,
            labels: c.labels[k],
            labelColor: c.labelColor,
            stripes: c.stripes,
            stripeColor: c.stripeColor,
            stripeOpacity: c.stripeOpacity
        });
    });
    svg.append("text")
        .attr("x", 7)
        .attr("y", rowY[r] + 126)
        .style("font-size", "38px")
        .style("letter-spacing", "2px")
        .text(rowNames[r]);
    drawBar(r, c.levels, c.colors.slice(0, c.levels.length - 1), c.over);
});
</script>
</body>
</html>
